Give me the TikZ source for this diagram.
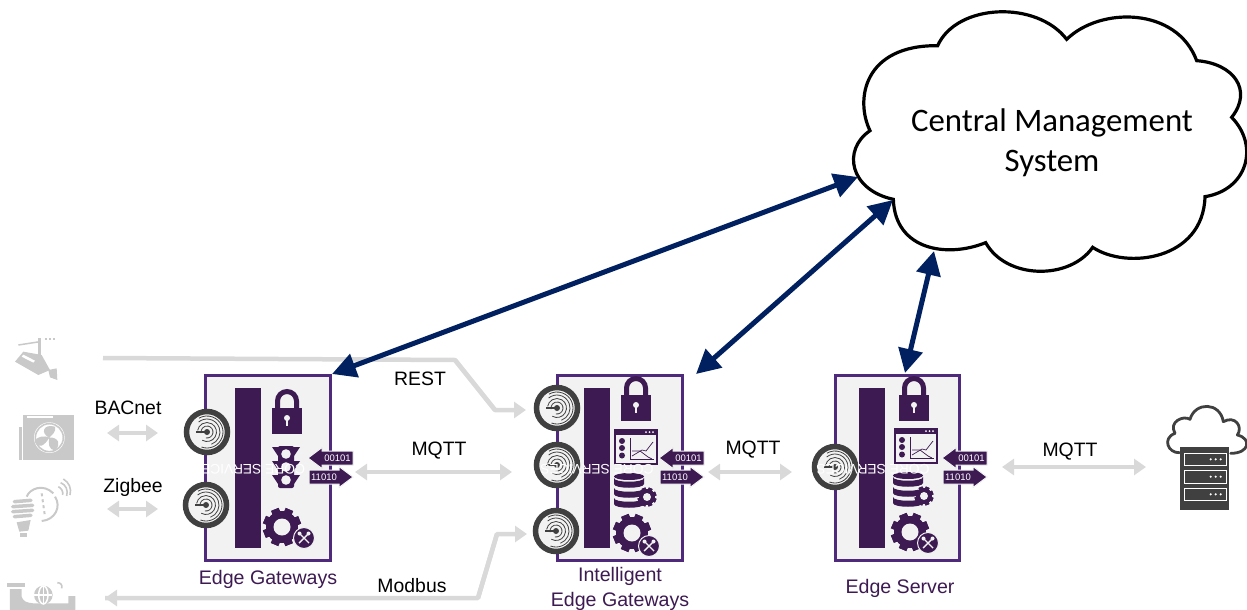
\documentclass[tikz,border=0pt]{standalone}
\usepackage{fontspec}
\setmainfont{Liberation Sans}
\newfontfamily\cloudfont{Carlito}
\usetikzlibrary{arrows.meta}
\definecolor{frameP}{HTML}{4F2A7C}
\definecolor{darkP}{HTML}{3D1A52}
\definecolor{panelG}{HTML}{F2F2F2}
\definecolor{pale}{HTML}{D9D9D9}
\definecolor{paleI}{HTML}{C9C9C9}
\definecolor{navyA}{HTML}{002060}
\definecolor{ringG}{HTML}{404040}
\tikzset{
  gatebox/.style={draw=frameP,fill=panelG,line width=3pt},
  barbox/.style={fill=darkP},
  lbl/.style={font=\fontsize{19.4}{20}\selectfont,text=black,inner sep=0pt},
  plbl/.style={font=\fontsize{19.6}{25}\selectfont,text=darkP,inner sep=0pt,align=center},
  coretxt/.style={font=\fontsize{13.8}{14}\selectfont,text=white,inner sep=0pt,rotate=180},
  bitstxt/.style={font=\fontsize{9.5}{10}\selectfont,text=white,inner sep=0pt},
  navyline/.style={draw=navyA,line width=5pt,{Triangle[length=24pt,width=24pt]}-{Triangle[length=24pt,width=24pt]}},
  paleboth/.style={draw=pale,line width=4pt,{Triangle[length=12pt,width=16pt]}-{Triangle[length=12pt,width=16pt]}},
  paleone/.style={draw=pale,line width=4.5pt,-{Triangle[length=12pt,width=16pt]}},
  ringicon/.pic={
    \draw[draw=ringG,fill=panelG,line width=5.5pt] (0,0) circle[radius=20.5pt];
    \foreach \r/\a/\b in {6/-100/190,9.5/-120/170,13/-70/130,16/-110/120}{
      \draw[ringG,line width=.8pt] (\a:\r pt) arc[start angle=\a,end angle=\b,radius=\r pt];
    }
    \fill[ringG] (0,0) circle[radius=3pt];
    \draw[ringG,line width=1.4pt] (-11,0) -- (0,0);
  },
  lockicon/.pic={
    \draw[darkP,line width=5pt] (-9.5,2) -- (-9.5,-7) arc[start angle=180,end angle=0,radius=9.5pt] -- (9.5,2);
    \fill[darkP] (-15,0) rectangle (15,26);
    \fill[panelG] (0,10) circle[radius=3pt];
    \fill[panelG] (-1.3,10) rectangle (1.3,18);
  },
  trafficicon/.pic={
    \foreach \y in {-20,-6,8}{
      \fill[darkP] (-14,\y) -- (14,\y) -- (8,\y+9) -- (-8,\y+9) -- cycle;
    }
    \fill[darkP,rounded corners=2pt] (-8,-21) rectangle (8,21);
    \foreach \y in {-13,0,13}{ \fill[panelG] (0,\y) circle[radius=4.8pt]; }
  },
  gearicon/.pic={
    \foreach \a in {0,45,...,315}{
      \fill[darkP,rotate=\a+22] (-4,-19) rectangle (4,19);
    }
    \fill[darkP] (0,0) circle[radius=16pt];
    \fill[panelG] (0,0) circle[radius=8.5pt];
  },
  smallgear/.pic={
    \foreach \a in {0,45,...,315}{
      \fill[darkP,rotate=\a+22] (-2,-9.5) rectangle (2,9.5);
    }
    \fill[darkP] (0,0) circle[radius=8pt];
    \fill[panelG] (0,0) circle[radius=4pt];
  },
  toolsicon/.pic={
    \draw[panelG,fill=darkP,line width=1pt] (0,0) circle[radius=10.5pt];
    \draw[panelG,line width=1.4pt] (-5,-5) -- (5,5);
    \draw[panelG,line width=1.4pt] (5,-5) -- (-5,5);
    \fill[panelG] (4.5,-4.5) circle[radius=2pt];
    \fill[panelG] (-4.5,-4.5) circle[radius=2pt];
  },
  dashicon/.pic={
    \draw[darkP,fill=panelG,line width=1.4pt] (0,0) rectangle (42,34);
    \fill[darkP] (0,0) rectangle (42,4.5);
    \foreach \x in {31,34.5,38}{ \fill[white] (\x,2.2) circle[radius=1pt]; }
    \foreach \y in {11,18,25.5}{
      \fill[darkP] (7,\y) circle[radius=3pt];
    }
    \draw[darkP,line width=.7pt] (15,8) -- (15,29) -- (39,29);
    \draw[darkP,line width=.7pt] (17,21) -- (25,21) -- (33,27) -- (37,29);
    \draw[darkP,line width=.7pt] (17,26) -- (27,20) -- (31,21) -- (38,12);
  },
  dbicon/.pic={
    \fill[darkP] (15,3.5) ellipse[x radius=15pt,y radius=3.5pt];
    \foreach \s in {0,10,20}{
      \fill[darkP] (0,5+\s) -- (0,11+\s) .. controls (0,16+\s) and (30,16+\s) .. (30,11+\s) -- (30,5+\s) .. controls (30,10+\s) and (0,10+\s) .. cycle;
    }
  },
  bitsicon/.pic={
    \fill[darkP,draw=panelG,line width=1pt] (0,-19) -- (14,-29.5) -- (14,-26) -- (45,-26) -- (45,-12) -- (14,-12) -- (14,-8.5) -- cycle;
    \fill[darkP,draw=panelG,line width=1pt] (1,-7) -- (31,-7) -- (31,-10.5) -- (45,0) -- (31,10.5) -- (31,7) -- (1,7) -- cycle;
    \node[bitstxt] at (29.5,-19) {00101};
    \node[bitstxt] at (16,0) {11010};
  }
}
\begin{document}
\begin{tikzpicture}[x=1pt,y=-1pt]
\useasboundingbox (0,0) rectangle (1247,610);
% connector end coordinates
\coordinate (restA) at (103,358);
\coordinate (restB) at (455,360);
\coordinate (restC) at (495,410);
\coordinate (restD) at (526,410);
\coordinate (modA) at (105,598);
\coordinate (modB) at (478,598);
\coordinate (modC) at (497,534);
\coordinate (modD) at (527,534);
\coordinate (bacL) at (107,433);
\coordinate (bacR) at (158,433);
\coordinate (zigL) at (107,509);
\coordinate (zigR) at (158,509);
\coordinate (mqA) at (355,472);
\coordinate (mqB) at (512,472);
\coordinate (mqC) at (708,472);
\coordinate (mqD) at (792,472);
\coordinate (mqE) at (1002,467);
\coordinate (mqF) at (1146,467);
\coordinate (gw1) at (332,374);
\coordinate (gw2) at (696,374);
\coordinate (srv) at (905,373);
\coordinate (cl1) at (858,177);
\coordinate (cl2) at (893,200);
\coordinate (cl3) at (934,251);
% pale connectors
\draw[paleone,-,line join=round] (restA) -- (restB) -- (restC);
\draw[paleone,line join=round] (restB) -- (restC) -- (restD);
\draw[paleone,-,line join=round] (modA) -- (modB) -- (modC);
\draw[paleone,line join=round] (modB) -- (modC) -- (modD);
\draw[paleone] (modB) -- (modA);
\draw[paleboth] (bacL) -- (bacR);
\draw[paleboth] (zigL) -- (zigR);
\draw[paleboth] (mqA) -- (mqB);
\draw[paleboth] (mqC) -- (mqD);
\draw[paleboth] (mqE) -- (mqF);
% cloud
\begin{scope}[shift={(840,0)},x=.33333pt,y=-.33333pt]
\draw[black,line width=3.2pt,fill=white,line join=miter]
 (90,392) .. controls (45,300) and (70,135) .. (293,137)
 .. controls (350,10) and (590,0) .. (680,118)
 .. controls (780,20) and (1010,20) .. (1070,182)
 .. controls (1180,190) and (1240,270) .. (1175,352)
 .. controls (1260,440) and (1220,570) .. (1095,590)
 .. controls (1090,780) and (860,810) .. (758,742)
 .. controls (690,840) and (500,840) .. (437,728)
 .. controls (320,775) and (165,750) .. (160,598)
 .. controls (30,570) and (5,450) .. (90,392) -- cycle;
\end{scope}
\node[inner sep=0pt,align=center,font=\cloudfont\fontsize{32.8}{40}\selectfont] (cms) at (1052,143) {Central Management\\System};
% boxes
\draw[gatebox] (205,375) rectangle (330,560);
\draw[gatebox] (557,375) rectangle (682,560);
\draw[gatebox] (835,375) rectangle (959,560);
\fill[barbox] (235,388) rectangle (261,548);
\fill[barbox] (584,388) rectangle (610,548);
\fill[barbox] (859,388) rectangle (885,548);
% navy connectors
\draw[navyline] (gw1) -- (cl1);
\draw[navyline] (gw2) -- (cl2);
\draw[navyline] (srv) -- (cl3);
% box 1 icons
\pic at (287,408) {lockicon};
\pic at (286,467) {trafficicon};
\pic at (282,527) {gearicon};
\pic at (304,538) {toolsicon};
\pic at (308,477) {bitsicon};
\pic at (207,432) {ringicon};
\pic at (206,505) {ringicon};
% box 2 icons
\pic at (636,395) {lockicon};
\pic at (615,430) {dashicon};
\pic at (614,473) {dbicon};
\pic at (647,497) {smallgear};
\pic at (632,533) {gearicon};
\pic at (649,546) {toolsicon};
\pic at (659,477) {bitsicon};
\pic at (557,408) {ringicon};
\pic at (557,465) {ringicon};
\pic at (556,531) {ringicon};
% box 3 icons
\pic at (914,395) {lockicon};
\pic at (895,429) {dashicon};
\pic at (893,472) {dbicon};
\pic at (924,496) {smallgear};
\pic at (910,532) {gearicon};
\pic at (928,543) {toolsicon};
\pic at (942,477) {bitsicon};
\pic at (835,467) {ringicon};
% rotated labels
\node[coretxt] (core1) at (248.5,469) {CORE SERVICES};
\node[coretxt] (core2) at (597,469) {CORE SERVICES};
\node[coretxt] (core3) at (873,469) {CORE SERVICES};
% labels
\node[lbl] (tBac) at (128,408) {BACnet};
\node[lbl] (tZig) at (133,487) {Zigbee};
\node[lbl] (tRest) at (420,379) {REST};
\node[lbl] (tM1) at (439,451) {MQTT};
\node[lbl] (tM2) at (753,450) {MQTT};
\node[lbl] (tM3) at (1070,452) {MQTT};
\node[lbl] (tMod) at (412,586) {Modbus};
\node[plbl] (tE1) at (268,579) {Edge Gateways};
\node[plbl] (tE2) at (620,589) {Intelligent\\Edge Gateways};
\node[plbl] (tE3) at (900,588) {Edge Server};
% camera
\begin{scope}[shift={(0,320)},x=.33333pt,y=-.33333pt]
\fill[paleI] (115,55) rectangle (124,105);
\draw[paleI,line width=1.5pt] (55,75) -- (120,65);
\draw[paleI,line width=2pt,dotted] (135,58) -- (170,58);
\fill[paleI] (70,95) -- (45,125) -- (115,165) -- (150,150) -- (125,105) -- cycle;
\fill[white] (65,110) -- (70,104) -- (105,122) -- (100,128) -- cycle;
\fill[paleI] (145,150) -- (170,145) -- (172,180) -- (150,172) -- cycle;
% fan
\fill[paleI] (70,285) rectangle (222,420);
\fill[paleI] (58,320) rectangle (66,420);
\fill[white] (80,288) rectangle (160,294);
\fill[white] (148,353) circle[radius=46];
\draw[paleI,line width=1.6pt] (148,353) circle[radius=42];
\fill[paleI] (148,353) .. controls (120,340) and (130,310) .. (165,320) .. controls (170,335) and (155,345) .. (148,353)
  .. controls (175,350) and (185,375) .. (165,390) .. controls (145,390) and (145,370) .. (148,353)
  .. controls (135,375) and (115,390) .. (105,365) .. controls (105,350) and (135,345) .. (148,353);
% bulb
\foreach \y/\w in {545/25,560/30,575/30,590/25}{
  \draw[paleI,line width=3.5pt,line cap=round] (68-\w,\y) -- (68+\w,\y-4);
}
\fill[paleI] (50,607) -- (92,600) -- (85,632) -- (58,635) -- cycle;
\fill[paleI] (60,638) rectangle (80,650);
\draw[paleI,line width=2pt] (80,530) .. controls (90,505) and (130,490) .. (160,520);
\draw[paleI,line width=2pt] (165,530) .. controls (185,560) and (165,600) .. (125,603);
\draw[paleI,line width=2pt,dashed] (125,520) -- (135,590);
\draw[paleI,line width=1.6pt] (175,500) .. controls (185,505) and (190,515) .. (188,525);
\draw[paleI,line width=1.6pt] (182,488) .. controls (198,495) and (205,510) .. (200,528);
\draw[paleI,line width=1.6pt] (190,477) .. controls (208,488) and (215,505) .. (210,525);
% pipe
\fill[paleI] (20,788) rectangle (75,800);
\fill[paleI] (30,807) -- (65,807) -- (65,830) .. controls (70,845) and (80,848) .. (100,850) -- (205,850) -- (205,828) -- (226,828) -- (226,870) -- (30,870) -- cycle;
\fill[paleI] (130,825) circle[radius=28];
\draw[white,line width=1.5pt] (103,825) -- (157,825);
\draw[white,line width=1.5pt] (130,798) -- (130,852);
\draw[white,line width=1.5pt] (130,825) ellipse[x radius=14,y radius=27];
\draw[paleI,line width=1.6pt] (172,788) .. controls (182,788) and (188,795) .. (185,805);
\end{scope}
% server
\begin{scope}[shift={(1140,390)},x=.33333pt,y=-.33333pt]
\draw[ringG,line width=2.8pt,line cap=round,line join=round]
 (118,188) .. controls (85,190) and (65,145) .. (105,130)
 .. controls (85,95) and (130,75) .. (150,88)
 .. controls (165,35) and (240,35) .. (250,95)
 .. controls (285,75) and (310,110) .. (292,135)
 .. controls (335,145) and (330,190) .. (272,190);
\fill[ringG] (120,172) rectangle (268,360);
\foreach \y in {190,242,295}{
  \draw[white,line width=1pt] (133,\y) rectangle (258,\y+37);
  \foreach \x in {212,227,242}{ \fill[white] (\x,\y+18) circle[radius=3.5]; }
}
\end{scope}
\end{tikzpicture}
\end{document}
